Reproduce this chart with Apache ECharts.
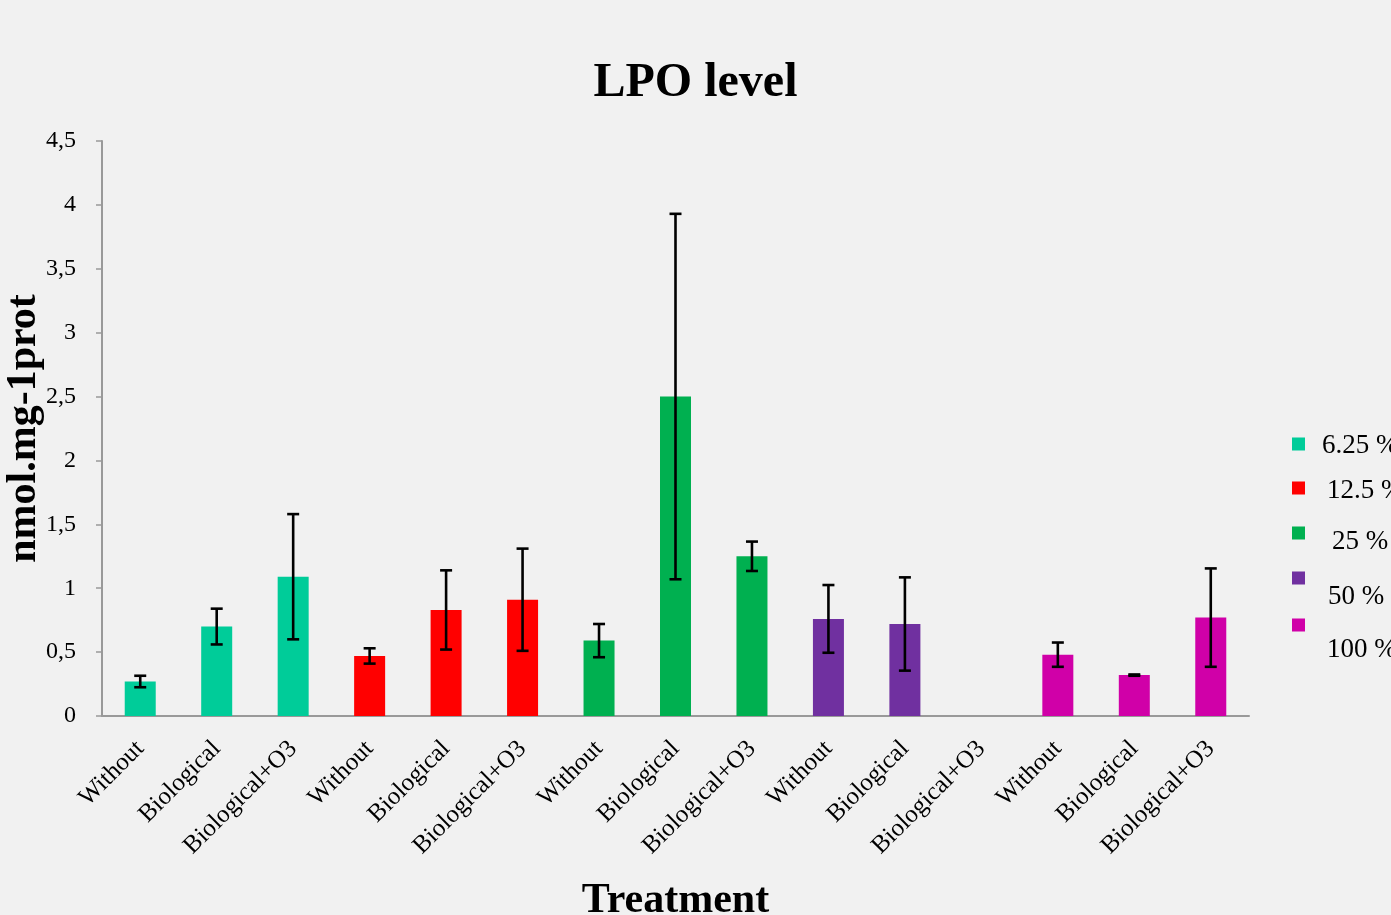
<!DOCTYPE html>
<html>
<head>
<meta charset="utf-8">
<script src="https://cdn.jsdelivr.net/npm/echarts@6/dist/echarts.min.js"></script>
<style>html,body{margin:0;padding:0;background:#f1f1f1;}#c{width:1391px;height:915px;}</style>
</head>
<body>
<div id="c"></div>
<script>
const categories = ['Without','Biological','Biological+O3','Without','Biological','Biological+O3','Without','Biological','Biological+O3','Without','Biological','Biological+O3','Without','Biological','Biological+O3'];
const groups = ['6.25 %','12.5 %','25 %','50 %','100 %'];
const groupColors = ['#00cc99','#ff0000','#00b050','#7030a0','#d000a8'];
const means = [0.27,0.70,1.09, 0.47,0.83,0.91, 0.59,2.50,1.25, 0.76,0.72,0.00, 0.48,0.32,0.77];
const errors = [0.045,0.14,0.49, 0.06,0.31,0.40, 0.13,1.43,0.115, 0.265,0.365,null, 0.095,0.005,0.385];
const yTicks = {min:0, max:4.5, interval:0.5};

const FONT = 'Liberation Serif';
const chart = echarts.init(document.getElementById('c'));

const barSeries = groups.map((g, gi) => ({
  name: g,
  type: 'bar',
  barWidth: 31,
  barGap: '-100%',
  itemStyle: {color: groupColors[gi]},
  data: means.map((v, i) => Math.floor(i / 3) === gi ? v : null)
}));

const errData = [];
means.forEach((v, i) => { if (errors[i] !== null) errData.push([i, v - errors[i], v + errors[i]]); });

const errSeries = {
  type: 'custom',
  z: 10,
  silent: true,
  data: errData,
  encode: {x: 0, y: [1, 2]},
  renderItem: function (params, api) {
    const x = api.value(0);
    const lo = api.coord([x, api.value(1)]);
    const hi = api.coord([x, api.value(2)]);
    const cap = 6;
    const style = {stroke: '#000', lineWidth: 2.6};
    return {
      type: 'group',
      children: [
        {type: 'line', shape: {x1: lo[0], y1: lo[1], x2: hi[0], y2: hi[1]}, style: style},
        {type: 'line', shape: {x1: lo[0] - cap, y1: lo[1], x2: lo[0] + cap, y2: lo[1]}, style: style},
        {type: 'line', shape: {x1: hi[0] - cap, y1: hi[1], x2: hi[0] + cap, y2: hi[1]}, style: style}
      ]
    };
  }
};

// legend layout: marker centre y, how far the label sits below its marker, label indent
const legendMarkerY = [444, 488, 533, 578, 625];
const legendTextDrop = [2, 3, 9, 19, 25];
const legendIndent = [12, 17, 22, 18, 17];
const LFS = 27;
const MK = 13;
const legends = groups.map((g, i) => {
  const d = legendTextDrop[i];
  const h = MK + 2 * d;
  // square at the top of a taller icon box; a zero-size sub-path stretches the box downward
  const icon = 'path://M0,0L' + MK + ',0L' + MK + ',' + MK + 'L0,' + MK + 'Z M0,' + h + 'L0.001,' + h + 'Z';
  const top = Math.min(legendMarkerY[i] - MK / 2, legendMarkerY[i] + d - LFS / 2);
  return {
    left: 1292,
    top: top,
    padding: 0,
    itemWidth: MK,
    itemHeight: h,
    selectedMode: false,
    data: [{name: g, icon: icon, textStyle: {padding: [0, 0, 0, legendIndent[i]]}}],
    textStyle: {fontFamily: FONT, fontSize: LFS, color: '#000'}
  };
});

chart.setOption({
  backgroundColor: '#f1f1f1',
  animation: false,
  title: {
    text: 'LPO level',
    left: 'center',
    top: 55,
    textStyle: {fontFamily: FONT, fontSize: 48, fontWeight: 'bold', color: '#000'}
  },
  legend: legends,
  grid: {left: 102, right: 142, top: 141, bottom: 199, containLabel: false, outerBoundsMode: 'none'},
  xAxis: {
    type: 'category',
    data: categories,
    name: 'Treatment',
    nameLocation: 'middle',
    nameGap: 164,
    nameMoveOverlap: false,
    nameTextStyle: {fontFamily: FONT, fontSize: 42, fontWeight: 'bold', color: '#000'},
    axisLine: {lineStyle: {color: '#999', width: 2}},
    axisTick: {show: false},
    axisLabel: {interval: 0, rotate: 45, fontFamily: FONT, fontSize: 25, color: '#000', margin: 29}
  },
  yAxis: {
    type: 'value',
    min: yTicks.min, max: yTicks.max, interval: yTicks.interval,
    name: 'nmol.mg-1prot',
    nameLocation: 'middle',
    nameGap: 57,
    nameMoveOverlap: false,
    nameRotate: 90,
    nameTextStyle: {fontFamily: FONT, fontSize: 42, fontWeight: 'bold', color: '#000'},
    axisLine: {show: true, lineStyle: {color: '#999', width: 2}},
    axisTick: {show: true, length: 6, lineStyle: {color: '#999', width: 1.5}},
    splitLine: {show: false},
    axisLabel: {fontFamily: FONT, fontSize: 24, color: '#000', margin: 26,
      formatter: v => String(v).replace('.', ',')}
  },
  series: barSeries.concat([errSeries])
});
</script>
</body>
</html>
